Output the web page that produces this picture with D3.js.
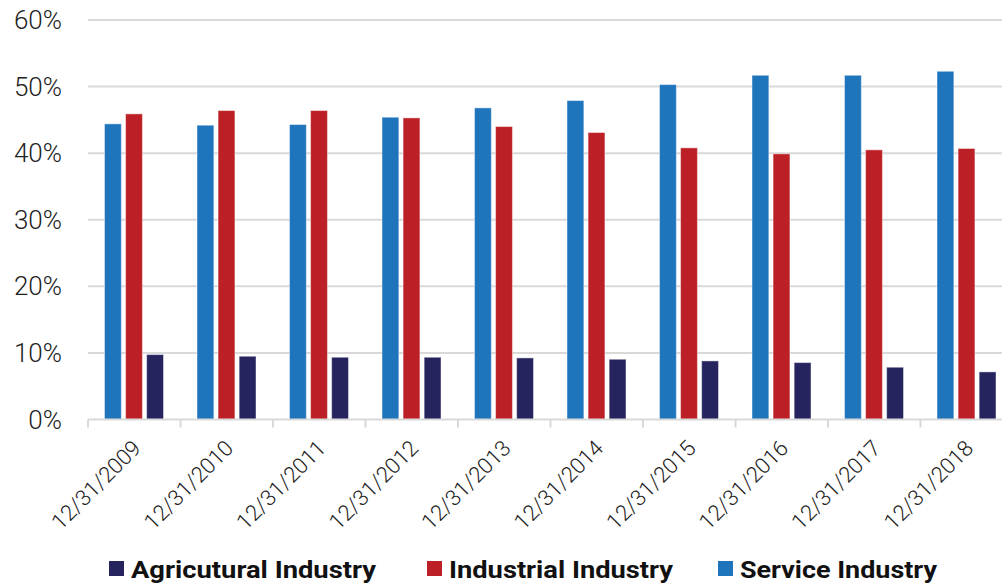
<!DOCTYPE html>
<html>
<head>
<meta charset="utf-8">
<script src="https://cdn.jsdelivr.net/npm/d3@7"></script>
<style>
  body { margin: 0; background: #fff; }
  svg { display: block; }
  .tick-label { font-family: Roboto, sans-serif; font-weight: 300; fill: #222; }
  .legend-label { font-family: Roboto, sans-serif; font-weight: 700; fill: #111; }
</style>
</head>
<body>
<div id="chart"></div>
<script>
// data
var dates = ["12/31/2009", "12/31/2010", "12/31/2011", "12/31/2012", "12/31/2013",
             "12/31/2014", "12/31/2015", "12/31/2016", "12/31/2017", "12/31/2018"];
var service = [44.4, 44.2, 44.3, 45.4, 46.8, 47.9, 50.3, 51.7, 51.7, 52.3];
var industrial = [45.9, 46.4, 46.4, 45.3, 44.0, 43.1, 40.8, 39.9, 40.5, 40.7];
var agricultural = [9.75, 9.5, 9.35, 9.35, 9.25, 9.05, 8.8, 8.55, 7.85, 7.15];
var yTicks = [0, 10, 20, 30, 40, 50, 60];

var series = [
    { key: "Service Industry", values: service, color: "#1f75bc" },
    { key: "Industrial Industry", values: industrial, color: "#bc2026" },
    { key: "Agricultural Industry", values: agricultural, color: "#25245e" }
];
var legendItems = [
    { label: "Agricutural Industry", color: "#25245e", x: 109, w: 245 },
    { label: "Industrial Industry", color: "#bc2026", x: 427, w: 224 },
    { label: "Service Industry", color: "#1f75bc", x: 718, w: 197 }
];

var width = 1002, height = 583;

var svg = d3.select("#chart")
    .append("svg")
    .attr("width", width)
    .attr("height", height);

var x = d3.scaleBand()
    .domain(dates)
    .range([88, 1013]);

var xInner = d3.scaleBand()
    .domain(series.map(function (d) { return d.key; }))
    .range([16.5, 75.5])
    .paddingInner(0.2);

var y = d3.scaleLinear()
    .domain([0, 60])
    .range([419.5, 20]);

// gridlines
svg.append("g")
    .selectAll("line")
    .data(yTicks.filter(function (d) { return d > 0; }))
    .enter()
    .append("line")
    .attr("x1", 88)
    .attr("x2", width)
    .attr("y1", function (d) { return y(d); })
    .attr("y2", function (d) { return y(d); })
    .style("stroke", "#d9d9d9")
    .style("stroke-width", 2);

// y labels
svg.append("g")
    .selectAll("text")
    .data(yTicks)
    .enter()
    .append("text")
    .attr("class", "tick-label")
    .attr("x", 62)
    .attr("y", function (d) { return y(d) + 9; })
    .attr("text-anchor", "end")
    .style("font-size", "26px")
    .text(function (d) { return d + "%"; });

// bars
var groups = svg.append("g")
    .selectAll("g")
    .data(series)
    .enter()
    .append("g")
    .style("fill", function (d) { return d.color; });

groups.selectAll("rect")
    .data(function (s) {
        return s.values.map(function (v, i) { return { key: s.key, date: dates[i], value: v }; });
    })
    .enter()
    .append("rect")
    .attr("x", function (d) { return x(d.date) + xInner(d.key); })
    .attr("width", xInner.bandwidth())
    .attr("y", function (d) { return y(d.value); })
    .attr("height", function (d) { return y(0) - y(d.value); })
    .style("stroke", "rgba(255,255,255,0.45)")
    .style("stroke-width", 1);

// x axis line and ticks
var axis = svg.append("g");
axis.append("line")
    .attr("x1", 88)
    .attr("x2", width)
    .attr("y1", y(0))
    .attr("y2", y(0))
    .style("stroke", "#d9d9d9")
    .style("stroke-width", 2);
axis.selectAll(".xtick")
    .data(dates)
    .enter()
    .append("line")
    .attr("class", "xtick")
    .attr("x1", function (d) { return x(d); })
    .attr("x2", function (d) { return x(d); })
    .attr("y1", y(0))
    .attr("y2", y(0) + 8)
    .style("stroke", "#d9d9d9")
    .style("stroke-width", 2);

axis.selectAll(".xlabel")
    .data(dates)
    .enter()
    .append("text")
    .attr("class", "tick-label")
    .attr("text-anchor", "end")
    .style("font-size", "22px")
    .attr("transform", function (d) {
        return "translate(" + (x(d) + x.bandwidth() / 2 + 8) + "," + (y(0) + 30) + ") rotate(-45)";
    })
    .text(function (d) { return d; });

// legend
var legend = svg.append("g")
    .selectAll("g")
    .data(legendItems)
    .enter()
    .append("g");
legend.append("rect")
    .attr("x", function (d) { return d.x; })
    .attr("y", 561)
    .attr("width", 15)
    .attr("height", 15)
    .style("fill", function (d) { return d.color; });
legend.append("text")
    .attr("class", "legend-label")
    .attr("x", function (d) { return d.x + 22; })
    .attr("y", 578)
    .style("font-size", "23px")
    .attr("textLength", function (d) { return d.w; })
    .attr("lengthAdjust", "spacingAndGlyphs")
    .text(function (d) { return d.label; });
</script>
</body>
</html>
